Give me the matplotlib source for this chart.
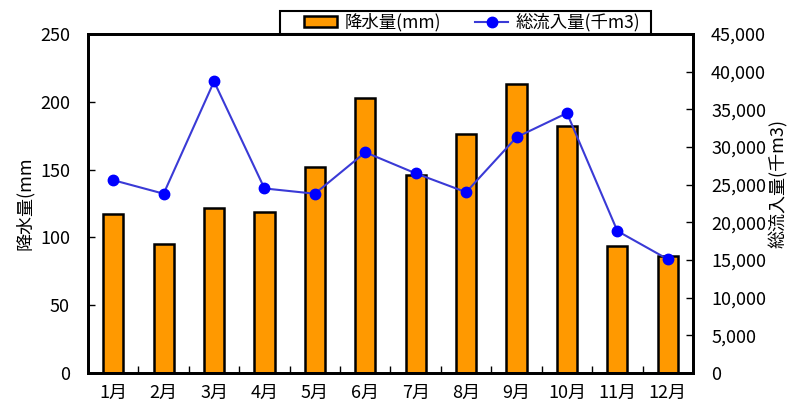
import matplotlib
matplotlib.use("Agg")
import matplotlib.pyplot as plt
from matplotlib.ticker import FuncFormatter, FixedLocator
from matplotlib.patches import Patch, Rectangle
from matplotlib.lines import Line2D
import numpy as np

plt.rcParams['font.family'] = ['Noto Sans CJK JP', 'DejaVu Sans']

# monthly totals
months = ["1月", "2月", "3月", "4月", "5月", "6月",
          "7月", "8月", "9月", "10月", "11月", "12月"]
rain_mm = [117, 95, 122, 119, 152, 203, 146, 176, 213, 182, 94, 86]
inflow_k_m3 = [25600, 23800, 38700, 24500, 23800, 29300,
               26500, 24000, 31300, 34500, 18850, 15100]

W, H = 787, 407
fig = plt.figure(figsize=(W / 100, H / 100), dpi=100)
ax = fig.add_axes([88/W, 34/H, 605/W, 339/H])
ax2 = ax.twinx()

x = np.arange(len(months))
ax.bar(x, rain_mm, width=0.4, color="#ff9900", edgecolor="black", linewidth=1.8, zorder=2)
ax2.plot(x, inflow_k_m3, color="#3a3ad6", linewidth=1.5, marker="o",
         markersize=7.5, markerfacecolor="#0000ff", markeredgecolor="#0000ff", zorder=3)

ax.set_xlim(-0.5, len(months) - 0.5)
ax.set_ylim(0, 250)
ax2.set_ylim(0, 45000)
ax.set_yticks(range(0, 251, 50))
ax2.set_yticks(range(0, 45001, 5000))
ax2.yaxis.set_major_formatter(FuncFormatter(lambda v, p: "{:,}".format(int(v))))

# month labels centred, tick marks between the bars
ax.set_xticks(x)
ax.set_xticklabels(months)
ax.xaxis.set_minor_locator(FixedLocator(np.arange(0.5, len(months) - 1, 1.0)))
ax.tick_params(axis="x", which="major", length=0, pad=8, labelsize=13)
ax.tick_params(axis="x", which="minor", direction="in", length=5, width=1)
ax.tick_params(axis="y", direction="in", length=5, width=1, pad=13, labelsize=13)
ax2.tick_params(axis="y", direction="in", length=5, width=1, pad=13, labelsize=13)

for a in (ax, ax2):
    for s in a.spines.values():
        s.set_linewidth(2)
        s.set_color("black")

fig.text(25/W, 1 - 203/H, "降水量(mm", rotation=90, ha="center", va="center", fontsize=13)
fig.text(778/W, 1 - 183/H, "総流入量(千m3)", rotation=90, ha="center", va="center", fontsize=13)

# legend box sitting on the top edge of the plot
fig.patches.append(Rectangle((280/W, 1 - 34/H), 371/W, 23/H, transform=fig.transFigure,
                             facecolor="white", edgecolor="black", linewidth=1.5, zorder=5))
handles = [Patch(facecolor="#ff9900", edgecolor="black", linewidth=1.8),
           Line2D([], [], color="#3a3ad6", linewidth=1.5, marker="o", markersize=7.5,
                  markerfacecolor="#0000ff", markeredgecolor="#0000ff")]
leg = fig.legend(handles, ["降水量(mm)", "総流入量(千m3)"], ncol=2, loc="center right",
                 bbox_to_anchor=(640/W, 1 - 22.5/H), bbox_transform=fig.transFigure,
                 fontsize=12.5, frameon=False, borderpad=0, handlelength=1.9,
                 handleheight=0.6, columnspacing=2.0, handletextpad=0.4, borderaxespad=0)
leg.set_zorder(10)

fig.savefig("out.png", dpi=100)
